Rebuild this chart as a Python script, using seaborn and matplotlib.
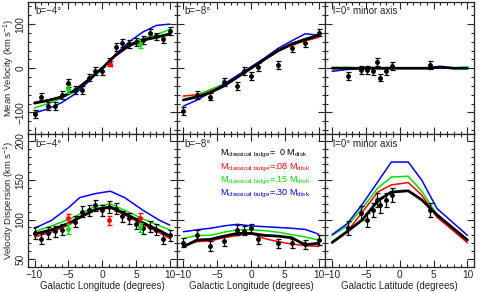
import matplotlib
matplotlib.use('Agg')
import matplotlib.pyplot as plt
import seaborn as sns
import numpy as np
from matplotlib.ticker import MultipleLocator

sns.set_style('ticks')
plt.rcParams['font.family'] = ['Liberation Sans', 'DejaVu Sans']
plt.rcParams['mathtext.default'] = 'regular'

# model grids
l_mod = [-10, -8, -6, -4, -2, 0, 2, 4, 6, 8, 10]
l_modD = [-10, -7.5, -5, -3.3, -1, 1.2, 3.3, 6, 8.5, 10]
b_modF = [-10, -7.75, -5.5, -3.25, -1.25, 1.25, 3.25, 5.5, 7.75, 10]

# top-left: b=-4 mean velocity
vA_black = [-79, -73, -65, -50, -26, 0, 30, 52, 64, 70, 78]
vA_red = [-77, -72, -65, -50, -25, 0, 28, 50, 62, 70, 78]
vA_green = [-90, -80, -68, -52, -27, 0, 30, 55, 67, 76, 88]
vA_blue = [-101, -92, -78, -58, -30, 0, 32, 60, 82, 97, 100]
lA_obs = [-10, -9, -8, -7, -6, -5, -4, -3, -2, -1, 0, 1, 2, 3, 4, 5, 6, 7, 8, 9, 10]
vA_obs = [-103, -64, -85, -85, -60, -34, -49, -49, -21, -6, -6, 14, 48, 57, 55, 60, 64, 80, 72, 66, 84]

# top-middle: b=-8 mean velocity
vB_black = [-72, -65, -55, -40, -20, 0, 20, 40, 55, 65, 75]
vB_red = [-63, -60, -50, -38, -18, 0, 20, 38, 52, 62, 70]
vB_green = [-72, -62, -48, -36, -18, 2, 22, 40, 55, 68, 75]
vB_blue = [-86, -72, -55, -36, -16, 3, 23, 45, 62, 78, 75]
lB_obs = [-10, -8, -6, -4, -2, -1, 0, 1, 4, 6, 8, 10]
vB_obs = [-96, -60, -64, -31, -40, -6, -18, 3, 7, 46, 57, 81]

# top-right: minor axis mean velocity
vC_black = [0, 0, 0, 0, 0, 0, 0, 0, 3, 0, 0]
vC_red = [0, 0, 0, 0, 0, 0, 0, 0, 0, 0, 0]
vC_green = [2, 2, 1, 1, 1, 0, 1, 0, 1, 1, 3]
vC_blue = [-7, -3, -1, 0, 0, 0, 1, 0, 0, 0, 0]
bC_obs = [-7.7, -5.7, -4.8, -3.9, -3.3, -2.9, -2.0, -1.2, 4.5]
vC_obs = [-18, -3, -3, -6, 14, -21, -7, 5, 8]

# bottom-left: b=-4 dispersion
sD_black = [81.6, 87, 95, 103, 113, 116, 108, 96, 86, 79]
sD_red = [78, 84, 93, 102, 112, 115, 106, 94, 83, 76]
sD_green = [84.6, 92, 100, 107, 117, 120, 112, 101, 92, 87]
sD_blue = [89, 99, 115, 128, 133, 136, 128, 112, 99, 93]
lD_obs = [-10, -9, -8, -7, -6, -4, -3, -2, -1, 0, 1, 2, 3, 4, 5, 6, 7, 8, 9, 10]
sD_obs = [83, 76, 83, 85, 87, 97, 110, 112, 118, 112, 116, 114, 104, 102, 95, 89, 91, 87, 76, 80]

# bottom-middle: b=-8 dispersion
sE_black = [65.6, 74, 75, 79, 82.5, 82.5, 80, 79, 77, 68, 70]
sE_red = [67.7, 72, 73, 77, 80, 82.5, 76, 72, 69, 67, 66]
sE_green = [76, 80, 80, 84, 87, 87, 86, 84, 81, 78, 74]
sE_blue = [84.6, 87, 89, 92, 94, 92, 91, 90, 89, 87.6, 81.6]
lE_obs = [-10, -8, -6, -4, -2, -1, 0, 1, 4, 6, 8, 10]
sE_obs = [70.6, 81, 66.5, 72.8, 86.7, 86, 89, 75, 70, 70, 68.6, 74]

# bottom-right: minor axis dispersion
sF_black = [71, 85, 100, 124, 135, 136.5, 125, 106, 90, 74]
sF_red = [70.6, 85, 110, 135, 144, 147, 131, 103, 87, 70.6]
sF_green = [80, 92, 115, 140, 154, 155, 136, 106, 90, 75]
sF_blue = [81, 95, 120, 148, 173, 173, 150, 114, 97, 80]
bF_obs = [-7.7, -5.7, -4.9, -3.9, -3.3, -2.9, -2.0, -1.2, 4.5]
sF_obs = [89, 108, 99, 112, 124.7, 118, 124.7, 131, 112]

colors = ['red', '#00e000', 'blue', 'black']

fig, axes = plt.subplots(2, 3, figsize=(4.79, 2.92), dpi=100)
fig.subplots_adjust(left=0.058, right=0.99, top=0.993, bottom=0.086, wspace=0, hspace=0)

panels = [
    (axes[0, 0], l_mod, [vA_red, vA_green, vA_blue, vA_black], lA_obs, vA_obs, 9),
    (axes[0, 1], l_mod, [vB_red, vB_green, vB_blue, vB_black], lB_obs, vB_obs, 9),
    (axes[0, 2], l_mod, [vC_red, vC_green, vC_blue, vC_black], bC_obs, vC_obs, 9),
    (axes[1, 0], l_modD, [sD_red, sD_green, sD_blue, sD_black], lD_obs, sD_obs, 7),
    (axes[1, 1], l_mod, [sE_red, sE_green, sE_blue, sE_black], lE_obs, sE_obs, 6),
    (axes[1, 2], b_modF, [sF_red, sF_green, sF_blue, sF_black], bF_obs, sF_obs, 9),
]

for ax, xm, models, xo, yo, err in panels:
    for ys, c in zip(models, colors):
        sns.lineplot(x=xm, y=ys, color=c, lw=2.0 if c == 'black' else 1.1,
                     ax=ax, estimator=None, sort=False)
    ax.errorbar(xo, yo, yerr=err, fmt='o', color='black', ms=2.5,
                elinewidth=0.9, capsize=1.8, capthick=0.9)

# a few coloured overlapping points
axes[0, 0].errorbar([-5, 5.6], [-47, 55], yerr=8, fmt='o', color='#00e000', ms=2.5, elinewidth=0.9, capsize=1.8)
axes[0, 0].errorbar([1.2], [10], yerr=6, fmt='o', color='red', ms=2.5, elinewidth=0.9, capsize=1.8)
axes[1, 0].errorbar([-5, 1, 5.6], [101.5, 99, 102], yerr=6, fmt='o', color='red', ms=2.5, elinewidth=0.9, capsize=1.8)
axes[1, 0].errorbar([-5, 5.6], [88, 90], yerr=6, fmt='o', color='#00e000', ms=2.5, elinewidth=0.9, capsize=1.8)

labels = ['b=\u22124\u00b0', 'b=\u22128\u00b0', 'l=0\u00b0 minor axis']
for j in range(3):
    for i in range(2):
        ax = axes[i, j]
        ax.set_xlim(-11, 11)
        ax.set_ylim(-150, 150) if i == 0 else ax.set_ylim(40, 208)
        ax.xaxis.set_major_locator(MultipleLocator(5))
        ax.xaxis.set_minor_locator(MultipleLocator(1))
        if i == 0:
            ax.yaxis.set_major_locator(MultipleLocator(100))
            ax.yaxis.set_minor_locator(MultipleLocator(20))
        else:
            ax.yaxis.set_major_locator(MultipleLocator(50))
            ax.yaxis.set_minor_locator(MultipleLocator(10))
        ax.tick_params(which='both', direction='in', top=True, right=True,
                       labelsize=7.3, width=0.8, pad=2)
        ax.tick_params(which='major', length=5)
        ax.tick_params(which='minor', length=2.5)
        ax.tick_params(axis='y', labelrotation=90, pad=1.5)
        for lab in ax.get_yticklabels():
            lab.set_va('center')
        if j > 0:
            ax.set_yticklabels([])
        if i == 0:
            ax.set_xticklabels([])
        for s in ax.spines.values():
            s.set_linewidth(0.9)
        ax.text(0.05, 0.93, labels[j], transform=ax.transAxes, fontsize=7,
                ha='left', va='center')

axes[0, 0].set_ylabel('Mean Velocity (km s$^{-1}$)', fontsize=6.8)
axes[1, 0].set_ylabel('Velocity Dispersion (km s$^{-1}$)', fontsize=6.8)
axes[0, 0].yaxis.set_label_coords(-0.075, 0.5)
axes[1, 0].yaxis.set_label_coords(-0.075, 0.5)
axes[1, 0].set_xlabel('Galactic Longitude (degrees)', fontsize=7, labelpad=1)
axes[1, 1].set_xlabel('Galactic Longitude (degrees)', fontsize=7, labelpad=1)
axes[1, 2].set_xlabel('Galactic Latitude (degrees)', fontsize=7, labelpad=1)

legend_vals = ['  0', '.08', '.15', '.30']
legend_cols = ['black', 'red', '#00e000', 'blue']
for k, (val, c) in enumerate(zip(legend_vals, legend_cols)):
    axes[1, 1].text(0.29, 0.85 - 0.1 * k,
                    'M$_{classical\\ bulge}$=' + val + ' M$_{disk}$',
                    transform=axes[1, 1].transAxes, color=c, fontsize=6.5,
                    ha='left', va='center')

fig.savefig('out.png', dpi=100)
